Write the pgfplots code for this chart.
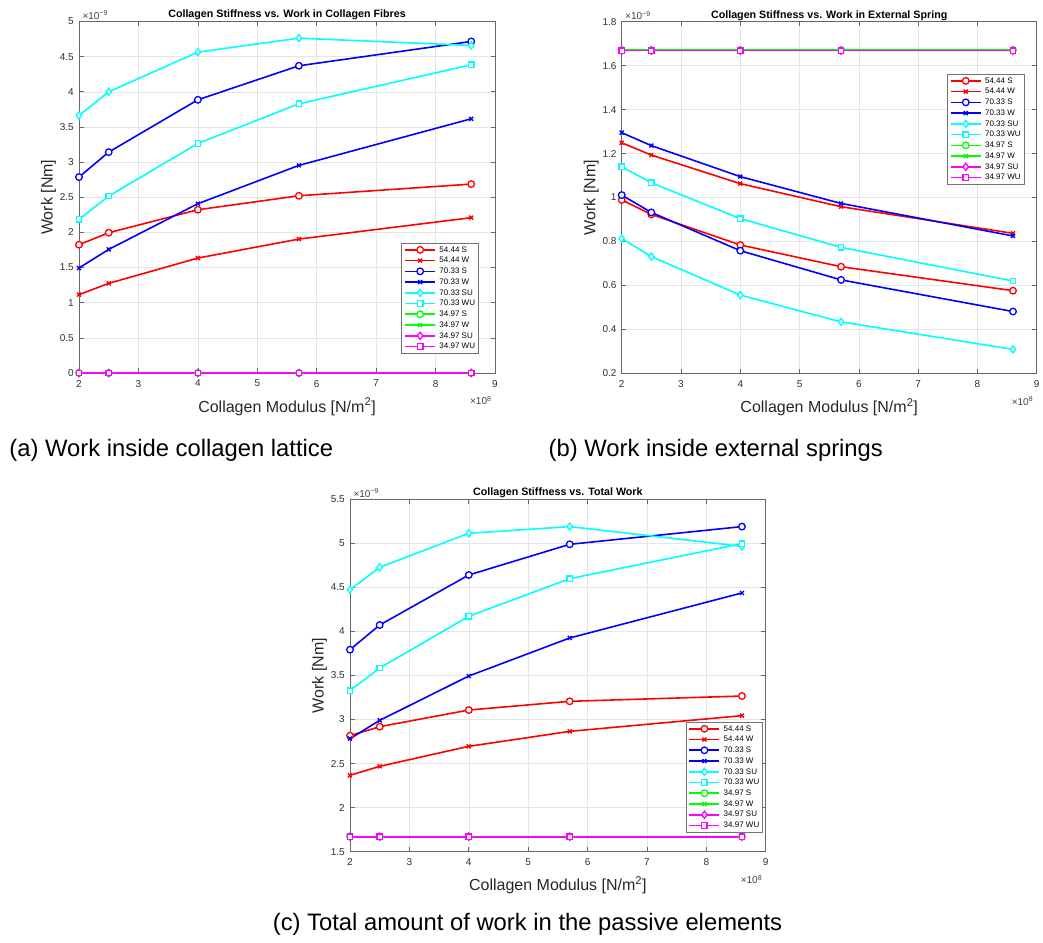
\documentclass[border=0pt]{standalone}
\usepackage{fontspec}
\setmainfont{Liberation Sans}
\usepackage{pgfplots}
\usepackage{pgfplotstable}
\pgfplotsset{compat=1.18}

% pure RGB series colours
\definecolor{sred}{rgb}{1,0,0}
\definecolor{sblue}{rgb}{0,0,1}
\definecolor{scyan}{rgb}{0,1,1}
\definecolor{sgreen}{rgb}{0,1,0}
\definecolor{smagenta}{rgb}{1,0,1}

% x: collagen modulus (x 10^8 N/m^2), y: work (x 10^-9 Nm)
\pgfplotstableread{
x    S54   W54   S70   W70   SU70  WU70  S35   W35   SU35  WU35
2    1.825 1.114 2.787 1.493 3.664 2.185 0     0     0     0
2.5  1.995 1.275 3.142 1.758 4.000 2.517 0     0     0     0
4    2.322 1.635 3.886 2.408 4.564 3.265 0     0     0     0
5.7  2.521 1.905 4.370 2.953 4.763 3.829 0     0     0     0
8.6  2.687 2.209 4.716 3.616 4.659 4.384 0     0     0     0
}\fibres

\pgfplotstableread{
x    S54   W54   S70   W70   SU70  WU70  S35   W35   SU35  WU35
2    0.989 1.249 1.011 1.295 0.813 1.140 1.671 1.671 1.668 1.668
2.5  0.923 1.193 0.932 1.236 0.731 1.067 1.671 1.671 1.668 1.668
4    0.784 1.063 0.758 1.095 0.556 0.904 1.671 1.671 1.668 1.668
5.7  0.685 0.958 0.625 0.973 0.434 0.773 1.671 1.671 1.668 1.668
8.6  0.576 0.837 0.481 0.825 0.309 0.620 1.671 1.671 1.668 1.668
}\springs

\pgfplotstableread{
x    S54   W54   S70   W70   SU70  WU70  S35   W35   SU35  WU35
2    2.817 2.367 3.793 2.783 4.474 3.328 1.673 1.673 1.670 1.670
2.5  2.919 2.469 4.073 2.991 4.728 3.585 1.673 1.673 1.670 1.670
4    3.108 2.696 4.641 3.494 5.114 4.172 1.673 1.673 1.670 1.670
5.7  3.207 2.866 4.989 3.926 5.190 4.599 1.673 1.673 1.670 1.670
8.6  3.267 3.044 5.190 4.437 4.966 4.997 1.673 1.673 1.670 1.670
}\total

\pgfplotsset{
  circ/.style={line width=1.6pt, mark=*, mark size=3.3pt, mark options={fill=white, solid, line width=1.3pt}},
  cross/.style={line width=1.6pt, mark=x, mark size=2.8pt, mark options={solid, line width=1.4pt}},
  diam/.style={line width=1.6pt, mark=diamond*, mark size=3.6pt, mark options={fill=white, solid, line width=1.3pt}},
  sq/.style={line width=1.6pt, mark=square*, mark size=2.7pt, mark options={fill=white, solid, line width=1.3pt}},
  matlab/.style={
    scale only axis, clip=false, anchor=south west,
    xmin=2, xmax=9, xtick={2,3,4,5,6,7,8,9},
    grid=major, major grid style={draw=black!10, line width=0.5pt},
    axis line style={draw=black!60, line width=0.6pt},
    tick style={draw=black!60, line width=0.6pt},
    tickpos=both, tick align=inside, major tick length=4.5pt,
    tick label style={font=\fontsize{10}{12}\selectfont, text=black!82},
    xticklabel style={yshift=-3.5pt},
    yticklabel style={xshift=-1.7pt},
    /pgf/number format/assume math mode=true,
    /pgf/number format/fixed,
    scaled ticks=false,
    legend cell align=left,
    legend image code/.code={%
      \draw[mark repeat=2, mark phase=2, #1]
        plot coordinates {(0pt,0pt) (15pt,0pt) (30pt,0pt)};},
    legend style={anchor=north west, draw=black!55,
      fill=white, font=\fontsize{8}{9.6}\selectfont, inner sep=2.7pt,
      row sep=2.24pt, /tikz/column sep=3pt,
      nodes={inner sep=0.5pt, text height=6pt, text depth=1.5pt}},
  },
}

\newcommand\allseries[1]{%
  \addplot[sred, circ]      table[x=x, y=S54]  {#1};
  \addplot[sred, cross]     table[x=x, y=W54]  {#1};
  \addplot[sblue, circ]     table[x=x, y=S70]  {#1};
  \addplot[sblue, cross]    table[x=x, y=W70]  {#1};
  \addplot[scyan, diam]     table[x=x, y=SU70] {#1};
  \addplot[scyan, sq]       table[x=x, y=WU70] {#1};
  \addplot[sgreen, circ]    table[x=x, y=S35]  {#1};
  \addplot[sgreen, cross]   table[x=x, y=W35]  {#1};
  \addplot[smagenta, diam]  table[x=x, y=SU35] {#1};
  \addplot[smagenta, sq]    table[x=x, y=WU35] {#1};
  \legend{54.44 S, 54.44 W, 70.33 S, 70.33 W, 70.33 SU, 70.33 WU,
          34.97 S, 34.97 W, 34.97 SU, 34.97 WU}
}

\newcommand\decor[1]{%
  \node[font=\bfseries\fontsize{10.7}{12}\selectfont, anchor=base]
    at ([yshift=3.5pt]rel axis cs:0.5,1) {#1};
  \node[font=\fontsize{10}{12}\selectfont, text=black!75, anchor=base west]
    at ([yshift=2pt]rel axis cs:0,1) {×10\textsuperscript{−9}};
  \node[font=\fontsize{10}{12}\selectfont, text=black!75, anchor=base east]
    at ([yshift=-32pt]rel axis cs:1,0) {×10\textsuperscript{8}};
  \node[font=\fontsize{16}{19}\selectfont, text=black!85, rotate=90]
    at ([xshift=-30.5pt]rel axis cs:0,0.5) {Work [Nm]};
  \node[font=\fontsize{16}{19}\selectfont, text=black!85]
    at ([yshift=-33.7pt]rel axis cs:0.5,0) {Collagen Modulus [N/m\textsuperscript{2}]};
}

\begin{document}
\begin{tikzpicture}
\path[use as bounding box] (0pt,0pt) rectangle (1043pt,942pt);

% (a) work in the collagen fibres
\begin{axis}[matlab, at={(79pt,569pt)}, width=416pt, height=351.5pt,
  ymin=0, ymax=5, ytick={0,0.5,1,1.5,2,2.5,3,3.5,4,4.5,5},
  legend style={at={(0.7752,0.3707)}}]
  \allseries{\fibres}
  \decor{Collagen Stiffness vs. Work in Collagen Fibres}
\end{axis}

% (b) work in the external springs
\begin{axis}[matlab, at={(621.7pt,568.7pt)}, width=415pt, height=351.6pt,
  ymin=0.2, ymax=1.8, ytick={0.2,0.4,0.6,0.8,1,1.2,1.4,1.6,1.8},
  legend style={at={(0.784,0.852)}}]
  \allseries{\springs}
  \decor{Collagen Stiffness vs. Work in External Spring}
\end{axis}

% (c) total work
\begin{axis}[matlab, at={(350pt,90.3pt)}, width=415.7pt, height=352.4pt,
  ymin=1.5, ymax=5.5, ytick={1.5,2,2.5,3,3.5,4,4.5,5,5.5},
  legend style={at={(0.8076,0.369)}}]
  \allseries{\total}
  \decor{Collagen Stiffness vs. Total Work}
\end{axis}

\node[font=\fontsize{23.8}{28}\selectfont, anchor=base] at (171.3pt,485.3pt)
  {(a) Work inside collagen lattice};
\node[font=\fontsize{23.8}{28}\selectfont, anchor=base] at (715.8pt,485.3pt)
  {(b) Work inside external springs};
\node[font=\fontsize{23.8}{28}\selectfont, anchor=base] at (527.5pt,12pt)
  {(c) Total amount of work in the passive elements};
\end{tikzpicture}
\end{document}
